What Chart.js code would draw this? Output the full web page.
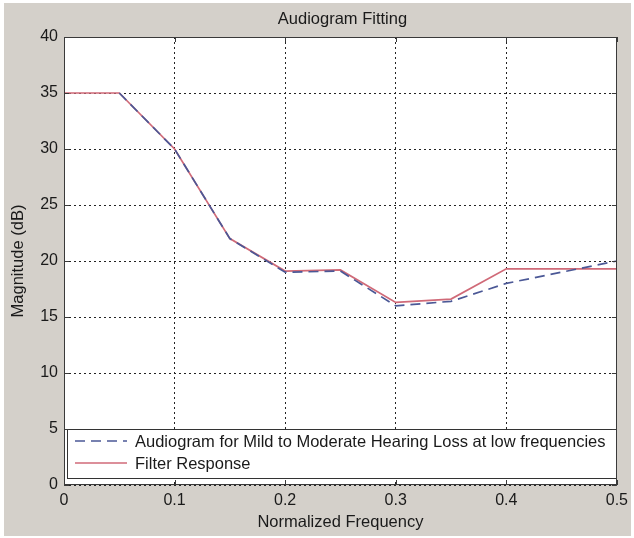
<!DOCTYPE html>
<html>
<head>
<meta charset="utf-8">
<title>Audiogram Fitting</title>
<script src="https://cdn.jsdelivr.net/npm/chart.js@4.4.0/dist/chart.umd.min.js"></script>
<style>
  html, body { margin: 0; padding: 0; background: #ffffff; }
  canvas { display: block; }
</style>
</head>
<body>
<canvas id="chartAudiogram" width="634" height="538"></canvas>
<script>
// Frequências normalizadas e respostas em dB
var frequencies = [0, 0.05, 0.1, 0.15, 0.2, 0.25, 0.3, 0.35, 0.4, 0.5];
var audiogramDb = [null, 35, 30, 22, 19, 19.1, 16, 16.4, 18, 20];
var filterDb = [35, 35, 30, 22, 19.1, 19.2, 16.3, 16.6, 19.3, 19.3];

var xTickLabels = ['0', '0.1', '0.2', '0.3', '0.4', '0.5'];
var yTickLabels = ['0', '5', '10', '15', '20', '25', '30', '35', '40'];

var seriesNames = [
  'Audiogram for Mild to Moderate Hearing Loss at low frequencies',
  'Filter Response'
];

var FONT = "'Liberation Sans', Arial, sans-serif";

function toPoints(xs, ys) {
  return xs.map(function(x, i) { return { x: x, y: ys[i] }; });
}

// Moldura estilo figura: fundo cinza, caixa do gráfico, marcas internas, legenda e título
var figureFrame = {
  id: 'figureFrame',
  beforeDraw: function(chart) {
    var ctx = chart.ctx;
    var ca = chart.chartArea;
    ctx.save();
    ctx.fillStyle = '#ffffff';
    ctx.fillRect(0, 0, chart.width, chart.height);
    ctx.fillStyle = '#d4d0ca';
    ctx.fillRect(4, 3, 627, 533);
    ctx.fillStyle = '#ffffff';
    ctx.fillRect(ca.left, ca.top, ca.right - ca.left, ca.bottom - ca.top);
    ctx.restore();
  },
  afterDatasetsDraw: function(chart) {
    var ctx = chart.ctx;
    var ca = chart.chartArea;
    var xs = chart.scales.x;
    var ys = chart.scales.y;
    ctx.save();

    // Legenda dentro da área do gráfico
    var lx = ca.left + 3, lr = ca.right - 1, lt = ca.top + 392, lb = ca.bottom - 7;
    ctx.fillStyle = '#ffffff';
    ctx.fillRect(lx, lt, lr - lx, lb - lt);
    ctx.strokeStyle = '#333333';
    ctx.lineWidth = 1;
    ctx.strokeRect(Math.round(lx) + 0.5, Math.round(lt) + 0.5, Math.round(lr - lx), Math.round(lb - lt));

    ctx.font = '16.5px ' + FONT;
    ctx.textBaseline = 'middle';
    ctx.textAlign = 'left';
    chart.data.datasets.forEach(function(ds, i) {
      var rowY = lt + 12 + i * 22;
      ctx.beginPath();
      ctx.setLineDash(ds.borderDash || []);
      ctx.strokeStyle = ds.borderColor;
      ctx.lineWidth = ds.borderWidth;
      ctx.moveTo(lx + 8, rowY);
      ctx.lineTo(lx + 60, rowY);
      ctx.stroke();
      ctx.setLineDash([]);
      ctx.fillStyle = '#1a1a1a';
      ctx.fillText(ds.label, lx + 68, rowY + 1);
    });

    // Caixa e marcas de escala internas
    ctx.strokeStyle = '#3a3a3a';
    ctx.lineWidth = 1;
    ctx.strokeRect(Math.round(ca.left) + 0.5, Math.round(ca.top) + 0.5,
      Math.round(ca.right - ca.left) - 1, Math.round(ca.bottom - ca.top) - 1);
    ctx.beginPath();
    xs.ticks.forEach(function(t) {
      var px = Math.round(xs.getPixelForValue(t.value)) + 0.5;
      ctx.moveTo(px, ca.bottom); ctx.lineTo(px, ca.bottom - 5);
      ctx.moveTo(px, ca.top); ctx.lineTo(px, ca.top + 5);
    });
    ys.ticks.forEach(function(t) {
      var py = Math.round(ys.getPixelForValue(t.value)) + 0.5;
      ctx.moveTo(ca.left, py); ctx.lineTo(ca.left + 5, py);
      ctx.moveTo(ca.right, py); ctx.lineTo(ca.right - 5, py);
    });
    ctx.stroke();
    ctx.restore();
  },
  afterDraw: function(chart) {
    var ctx = chart.ctx;
    var ca = chart.chartArea;
    ctx.save();
    ctx.font = '16.5px ' + FONT;
    ctx.fillStyle = '#1a1a1a';
    ctx.textAlign = 'center';
    ctx.textBaseline = 'middle';
    ctx.fillText('Audiogram Fitting', (ca.left + ca.right) / 2 + 2, 19);
    ctx.restore();
  }
};

var ctx = document.getElementById('chartAudiogram').getContext('2d');
var chart = new Chart(ctx, {
  type: 'line',
  data: {
    datasets: [{
      label: seriesNames[0],
      data: toPoints(frequencies, audiogramDb),
      borderColor: '#4b5896',
      borderWidth: 1.7,
      borderDash: [10, 6],
      pointRadius: 0,
      tension: 0,
      fill: false
    }, {
      label: seriesNames[1],
      data: toPoints(frequencies, filterDb),
      borderColor: '#d06a78',
      borderWidth: 1.7,
      pointRadius: 0,
      tension: 0,
      fill: false
    }]
  },
  options: {
    responsive: false,
    animation: false,
    events: [],
    layout: { padding: { top: 37, right: 12, bottom: 0, left: 0 } },
    plugins: {
      legend: { display: false },
      tooltip: { enabled: false }
    },
    scales: {
      x: {
        type: 'linear',
        min: 0,
        max: 0.5,
        afterFit: function(s) { s.height = 53; },
        ticks: {
          stepSize: 0.1,
          autoSkip: false,
          maxRotation: 0,
          padding: 6,
          color: '#1a1a1a',
          font: { family: FONT, size: 16 },
          callback: function(v, i) { return xTickLabels[i]; }
        },
        grid: { color: '#222222', lineWidth: 1, drawTicks: false },
        border: { display: false, dash: [2, 3] },
        title: {
          display: true,
          text: 'Normalized Frequency',
          color: '#1a1a1a',
          font: { family: FONT, size: 16.5 },
          padding: { top: 0, bottom: 6 }
        }
      },
      y: {
        min: 0,
        max: 40,
        afterFit: function(s) { s.width = 64; },
        ticks: {
          stepSize: 5,
          padding: 6,
          color: '#1a1a1a',
          font: { family: FONT, size: 16 },
          callback: function(v, i) { return yTickLabels[i]; }
        },
        grid: { color: '#222222', lineWidth: 1, drawTicks: false },
        border: { display: false, dash: [2, 3] },
        title: {
          display: true,
          text: 'Magnitude (dB)',
          color: '#1a1a1a',
          font: { family: FONT, size: 16.5 },
          padding: { top: 9, bottom: 0 }
        }
      }
    }
  },
  plugins: [figureFrame]
});
</script>
</body>
</html>
